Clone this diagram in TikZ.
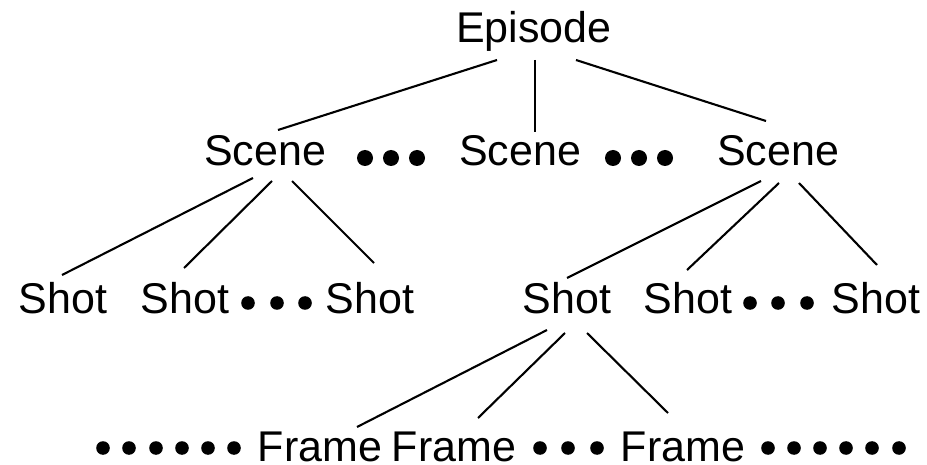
\documentclass[tikz,border=0pt]{standalone}
\usepackage{fontspec}
\setmainfont{Liberation Sans}
\begin{document}
\begin{tikzpicture}[x=1pt,y=-1pt,
  lbl/.style={font=\fontsize{43}{50}\selectfont, inner sep=0pt, anchor=base},
  link/.style={line width=2.1pt},
  bigdot/.style={fill=black},
]
\useasboundingbox (0,0) rectangle (927,465);
% nodes
\node[lbl] (ep)  at (534,43)  {Episode};
\node[lbl] (sc1) at (265,166) {Scene};
\node[lbl] (sc2) at (520,166) {Scene};
\node[lbl] (sc3) at (778,166) {Scene};
\node[lbl] (sh1) at (63,313)  {Shot};
\node[lbl] (sh2) at (185,313) {Shot};
\node[lbl] (sh3) at (370,313) {Shot};
\node[lbl] (sh4) at (567,314) {Shot};
\node[lbl] (sh5) at (688,314) {Shot};
\node[lbl] (sh6) at (876,314) {Shot};
\node[lbl] (fr1) at (320,461) {Frame};
\node[lbl] (fr2) at (454,461) {Frame};
\node[lbl] (fr3) at (683,461) {Frame};
% connectors
\draw[link] ([shift={(-37,17)}]ep.base) -- ([shift={(13,-36)}]sc1.base);
\draw[link] ([shift={(1,17)}]ep.base)   -- ([shift={(15,-34)}]sc2.base);
\draw[link] ([shift={(42,17)}]ep.base)  -- ([shift={(-12,-45)}]sc3.base);
\draw[link] ([shift={(-12,12)}]sc1.base) -- ([shift={(-1,-38)}]sh1.base);
\draw[link] ([shift={(7,15)}]sc1.base)   -- ([shift={(-1,-45)}]sh2.base);
\draw[link] ([shift={(27,15)}]sc1.base)  -- ([shift={(4,-50)}]sh3.base);
\draw[link] ([shift={(-17,15)}]sc3.base) -- ([shift={(0,-36)}]sh4.base);
\draw[link] ([shift={(1,17)}]sc3.base)   -- ([shift={(-1,-44)}]sh5.base);
\draw[link] ([shift={(21,17)}]sc3.base)  -- ([shift={(1,-49)}]sh6.base);
\draw[link] ([shift={(-20,16)}]sh4.base) -- ([shift={(37,-34)}]fr1.base);
\draw[link] ([shift={(-2,19)}]sh4.base)  -- ([shift={(24,-43)}]fr2.base);
\draw[link] ([shift={(20,19)}]sh4.base)  -- ([shift={(-15,-48)}]fr3.base);
% ellipsis dots
\foreach \x in {365,391,417,613,639,665} \fill[bigdot] (\x,158) circle (8pt);
\foreach \x in {248,277,305,750,778,807} \fill[bigdot] (\x,303) circle (6.8pt);
\foreach \x in {103,129,156,182,208,234,540,568,597,768,794,820,846,872,899} \fill[bigdot] (\x,448) circle (6.8pt);
\end{tikzpicture}
\end{document}
